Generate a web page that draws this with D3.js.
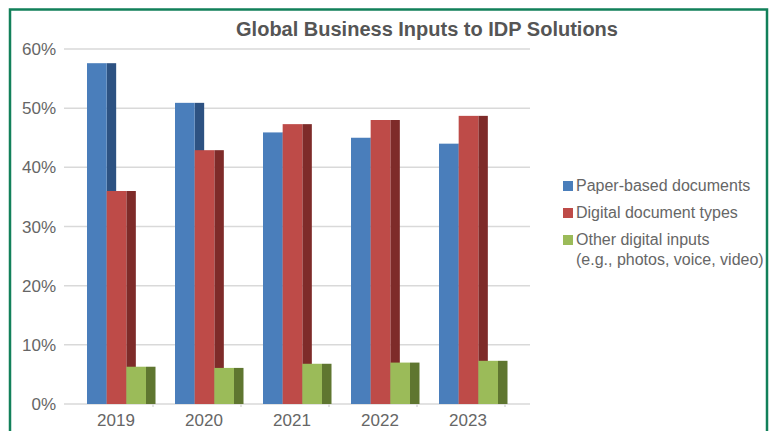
<!DOCTYPE html>
<html>
<head>
    <meta charset="utf-8">
    <script src="https://d3js.org/d3.v7.min.js"></script>
    <title>Global Business Inputs to IDP Solutions</title>
    <style>
        body { margin: 0; background: #fff; }
        svg { display: block; font-family: "Liberation Sans", Arial, sans-serif; }
        .grid line { stroke: #d9d9d9; stroke-width: 1.5px; }
        .tick-label { fill: #666; font-size: 17px; }
    </style>
</head>
<body>
    <svg width="774" height="431"></svg>

    <script>
        // Chart data
        const years = ["2019", "2020", "2021", "2022", "2023"];
        const seriesNames = ["Paper-based documents", "Digital document types", "Other digital inputs"];
        const paperBased = [0.576, 0.509, 0.459, 0.450, 0.440];
        const digitalDocs = [0.360, 0.429, 0.473, 0.480, 0.487];
        const otherInputs = [0.063, 0.061, 0.068, 0.070, 0.073];
        const yTicks = [0, 0.1, 0.2, 0.3, 0.4, 0.5, 0.6];

        const frontColors = ["#4a7ebb", "#be4b48", "#9bbb59"];
        const sideColors = ["#2d5282", "#7e2b29", "#5f7630"];

        const width = 774, height = 431;
        const svg = d3.select("svg");

        // Green frame
        svg.append("rect")
            .attr("x", 10).attr("y", 9.5)
            .attr("width", 757).attr("height", 440)
            .attr("fill", "none")
            .attr("stroke", "#12805a")
            .attr("stroke-width", 2.5);

        // Title
        svg.append("text")
            .attr("x", 427).attr("y", 36)
            .attr("text-anchor", "middle")
            .attr("font-size", "20px")
            .attr("font-weight", "bold")
            .attr("fill", "#555")
            .text("Global Business Inputs to IDP Solutions");

        const x = d3.scaleBand().domain(years).range([65, 505]);
        const xInner = d3.scaleBand().domain(seriesNames).range([22, 81]);
        const y = d3.scaleLinear().domain([0, 0.6]).range([404, 49]);
        const sideWidth = 9.5;

        // Gridlines
        svg.append("g").attr("class", "grid")
            .selectAll("line")
            .data(yTicks)
            .enter().append("line")
            .attr("x1", 64).attr("x2", 530)
            .attr("y1", d => y(d)).attr("y2", d => y(d));

        // y axis labels
        svg.append("g")
            .selectAll("text")
            .data(yTicks)
            .enter().append("text")
            .attr("class", "tick-label")
            .attr("x", 56)
            .attr("y", d => y(d) + 6)
            .attr("text-anchor", "end")
            .text(d3.format(".0%"));

        // small ticks at category boundaries
        svg.append("g")
            .selectAll("line")
            .data(years)
            .enter().append("line")
            .attr("x1", d => x(d) + x.bandwidth())
            .attr("x2", d => x(d) + x.bandwidth())
            .attr("y1", y(0)).attr("y2", y(0) + 3)
            .attr("stroke", "#d9d9d9")
            .attr("stroke-width", 1.5);

        // Bars (front + darker side face)
        const allSeries = [paperBased, digitalDocs, otherInputs];
        allSeries.forEach((values, si) => {
            const g = svg.append("g");
            const name = seriesNames[si];
            const bars = g.selectAll("g")
                .data(values.map((v, i) => ({ year: years[i], value: v })))
                .enter().append("g");
            bars.append("rect")
                .attr("x", d => x(d.year) + xInner(name) + xInner.bandwidth())
                .attr("y", d => y(d.value))
                .attr("width", sideWidth)
                .attr("height", d => y(0) - y(d.value))
                .attr("fill", sideColors[si]);
            bars.append("rect")
                .attr("x", d => x(d.year) + xInner(name))
                .attr("y", d => y(d.value))
                .attr("width", xInner.bandwidth())
                .attr("height", d => y(0) - y(d.value))
                .attr("fill", frontColors[si]);
        });

        // x labels
        svg.append("g")
            .selectAll("text")
            .data(years)
            .enter().append("text")
            .attr("class", "tick-label")
            .attr("x", d => x(d) + x.bandwidth() / 2 + 7)
            .attr("y", 426)
            .attr("text-anchor", "middle")
            .text(d => d);

        // Legend
        const legendRows = [
            { lines: ["Paper-based documents"], y: 181 },
            { lines: ["Digital document types"], y: 208 },
            { lines: ["Other digital inputs", "(e.g., photos, voice, video)"], y: 235 }
        ];
        const legend = svg.append("g");
        legendRows.forEach((row, i) => {
            legend.append("rect")
                .attr("x", 563).attr("y", row.y)
                .attr("width", 10).attr("height", 10)
                .attr("fill", frontColors[i]);
            const t = legend.append("text")
                .attr("fill", "#666")
                .attr("font-size", "16px");
            row.lines.forEach((line, j) => {
                t.append("tspan")
                    .attr("x", 576)
                    .attr("y", row.y + 10 + j * 20)
                    .text(line);
            });
        });
    </script>
</body>
</html>
